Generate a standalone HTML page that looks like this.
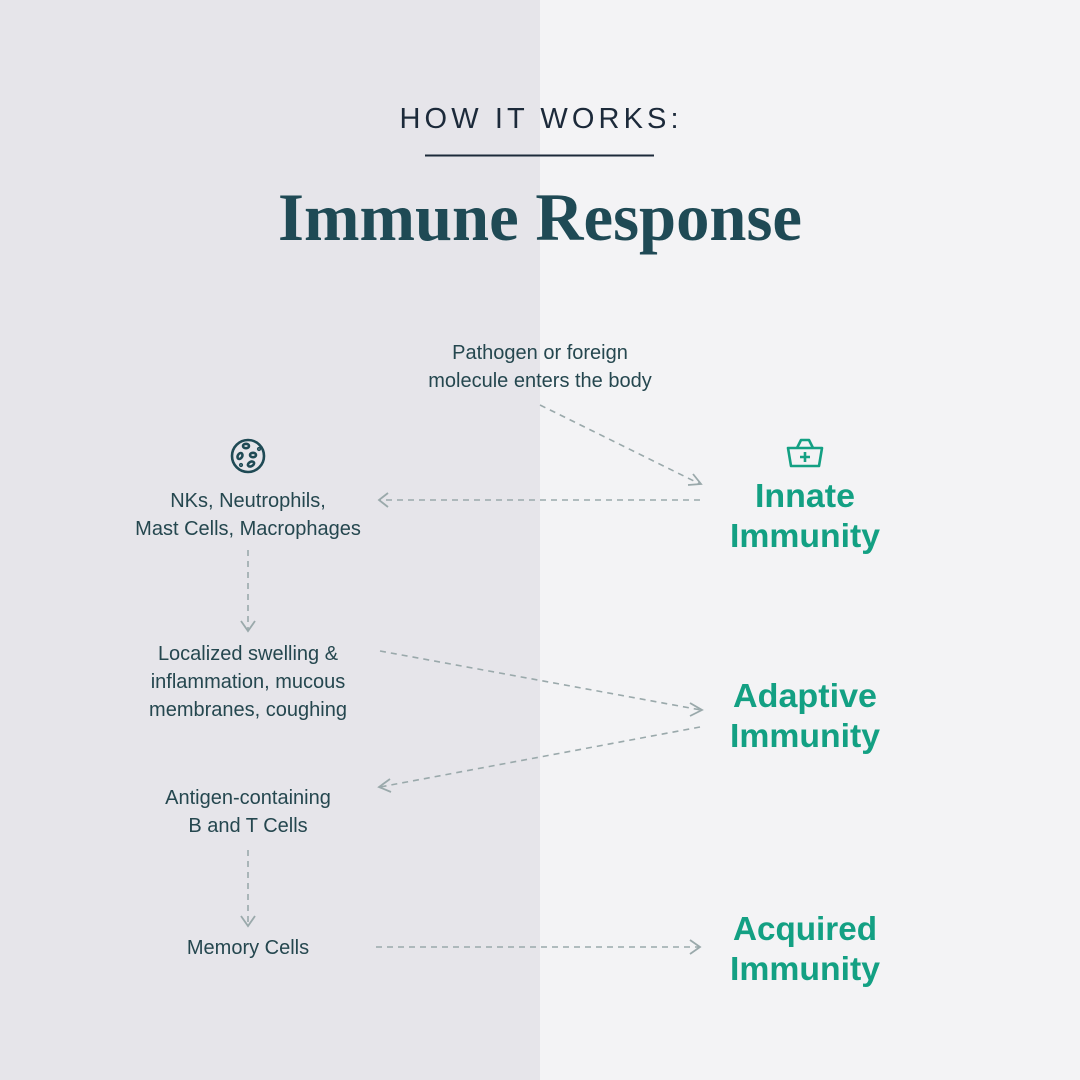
<!DOCTYPE html>
<html><head><meta charset="utf-8"><style>
html,body{margin:0;padding:0;width:1080px;height:1080px;overflow:hidden}
svg{display:block}
.s{font-family:"Liberation Sans",sans-serif;font-size:20px;fill:#25474f;text-anchor:middle}
.g{font-family:"Liberation Sans",sans-serif;font-weight:bold;font-size:33px;fill:#13a083;text-anchor:middle}
</style></head><body>
<svg width="1080" height="1080" viewBox="0 0 1080 1080">
<rect width="1080" height="1080" fill="#f3f3f5"/>
<rect width="540" height="1080" fill="#e6e5ea"/>
<text x="539" y="128" font-family="Liberation Sans,sans-serif" font-size="29" fill="#1c2a3a" text-anchor="middle" textLength="279" lengthAdjust="spacing">HOW IT WORKS:</text>
<line x1="425" y1="155.5" x2="654" y2="155.5" stroke="#1c2a3a" stroke-width="2"/>
<text x="540" y="240" font-family="Liberation Serif,serif" font-weight="bold" font-size="68" fill="#1f4a55" text-anchor="middle" textLength="524" lengthAdjust="spacingAndGlyphs">Immune Response</text>

<text class="s" x="540" y="359">Pathogen or foreign</text>
<text class="s" x="540" y="387">molecule enters the body</text>

<text class="s" x="248" y="507">NKs, Neutrophils,</text>
<text class="s" x="248" y="535">Mast Cells, Macrophages</text>
<text class="s" x="248" y="660">Localized swelling &amp;</text>
<text class="s" x="248" y="688">inflammation, mucous</text>
<text class="s" x="248" y="716">membranes, coughing</text>
<text class="s" x="248" y="804">Antigen-containing</text>
<text class="s" x="248" y="832">B and T Cells</text>
<text class="s" x="248" y="954">Memory Cells</text>

<text class="g" x="805" y="507" textLength="100" lengthAdjust="spacingAndGlyphs">Innate</text>
<text class="g" x="805" y="547" textLength="150" lengthAdjust="spacingAndGlyphs">Immunity</text>
<text class="g" x="805" y="707" textLength="144" lengthAdjust="spacingAndGlyphs">Adaptive</text>
<text class="g" x="805" y="747" textLength="150" lengthAdjust="spacingAndGlyphs">Immunity</text>
<text class="g" x="805" y="940" textLength="144" lengthAdjust="spacingAndGlyphs">Acquired</text>
<text class="g" x="805" y="980" textLength="150" lengthAdjust="spacingAndGlyphs">Immunity</text>

<g stroke="#1f4a55" stroke-width="2.6" fill="none">
<circle cx="248" cy="456" r="16"/>
<ellipse cx="246" cy="446" rx="3" ry="2.2"/>
<ellipse cx="253" cy="455" rx="3" ry="2.2"/>
<ellipse cx="240" cy="456" rx="2.2" ry="3.2" transform="rotate(30 240 456)"/>
<ellipse cx="251" cy="464" rx="3.3" ry="2.2" transform="rotate(-30 251 464)"/>
<circle cx="259" cy="449" r="0.8"/>
<circle cx="241" cy="465" r="0.8"/>
</g>
<g stroke="#13a083" stroke-width="2.6" fill="none" stroke-linejoin="round">
<path d="M797 448 L801 440 H809 L813 448"/>
<path d="M788 448 H822 L819 466 H791 Z"/>
<path d="M805 452 V462 M800 457 H810"/>
</g>

<g stroke="#9aa9ab" stroke-width="1.6" fill="none" stroke-dasharray="6 5">
<line x1="540" y1="405" x2="700" y2="484"/>
<line x1="700" y1="500" x2="380" y2="500"/>
<line x1="248" y1="550" x2="248" y2="630"/>
<line x1="380" y1="651" x2="701" y2="710"/>
<line x1="700" y1="727" x2="380" y2="787"/>
<line x1="248" y1="850" x2="248" y2="925"/>
<line x1="376" y1="947" x2="700" y2="947"/>
</g>
<g stroke="#9aa9ab" stroke-width="1.8" fill="none">
<path d="M693 474 L701 484 L688 485"/>
<path d="M388 493 L379 500 L388 507"/>
<path d="M241 621 L248 631 L255 621"/>
<path d="M690 703 L702 710 L690 716"/>
<path d="M390 779 L379 787 L391 792"/>
<path d="M241 916 L248 926 L255 916"/>
<path d="M690 940 L700 947 L690 954"/>
</g>
</svg>
</body></html>
